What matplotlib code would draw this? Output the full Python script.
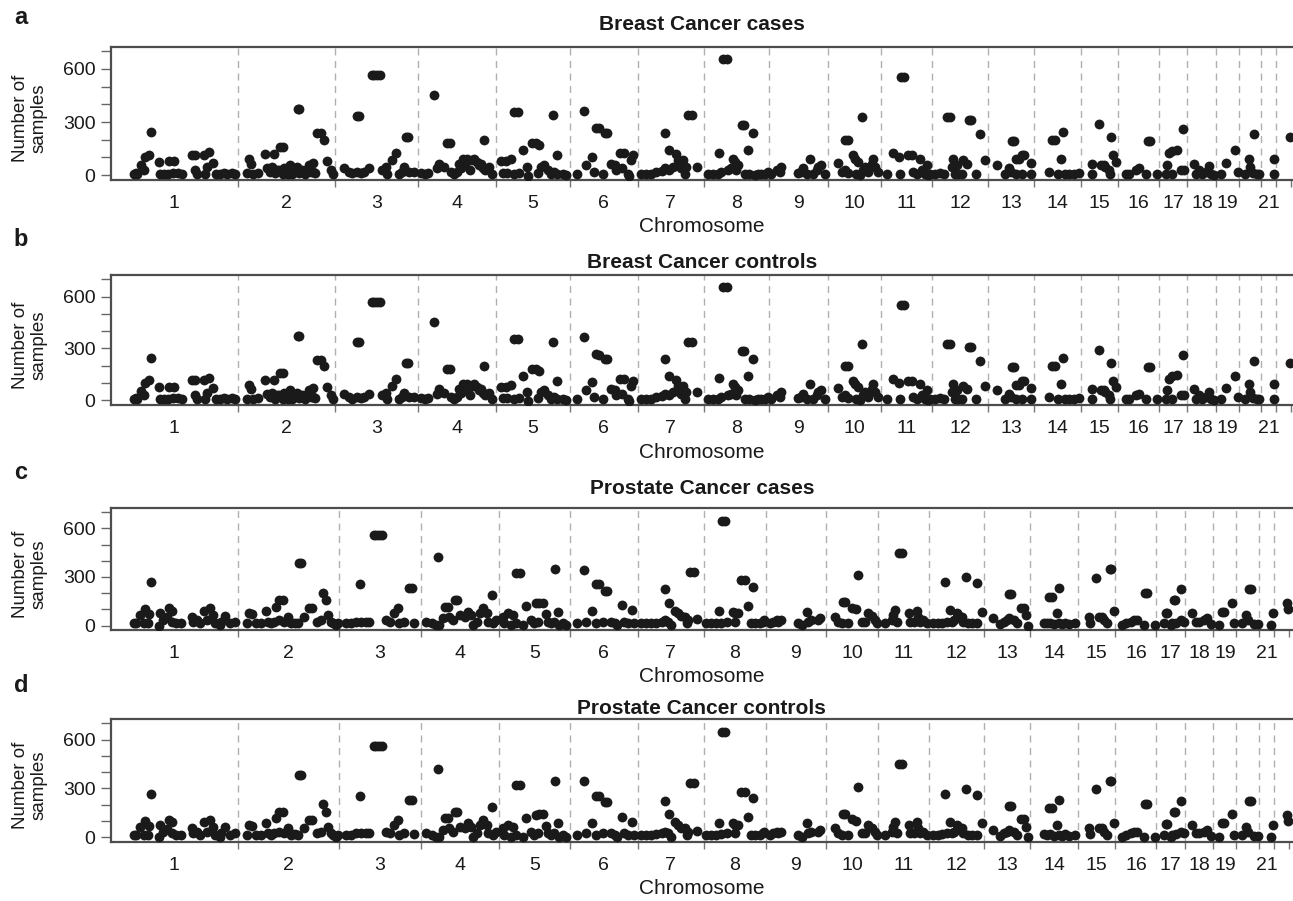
import numpy as np
import matplotlib
matplotlib.use("Agg")
import matplotlib.pyplot as plt

plt.rcParams['font.family'] = ['Liberation Sans', 'DejaVu Sans']

# ---------------- data ----------------
chrom_labels = ['1', '2', '3', '4', '5', '6', '7', '8', '9', '10', '11', '12',
                '13', '14', '15', '16', '17', '18', '19', '', '21', '']

# chromosome widths on the plot axis (as drawn in each dataset)
breast_chrom_widths = [127, 96.6, 83.4, 77.6, 73.7, 67.7, 65.6, 65.4, 58.6, 52.7, 51,
                       56.3, 45.4, 47, 37.3, 40.7, 28.3, 29, 22.7, 22, 14.6, 14.7]
prostate_chrom_widths = [127, 100.6, 81.7, 77.7, 71.3, 67.7, 65.6, 62, 60, 52.4, 51,
                         54.6, 46, 47.7, 37.3, 40.7, 28.3, 28.7, 23, 22.7, 15, 14.3]

# (relative position within chromosome, number of samples)
breast_c1 = [(0.18, 5), (0.20, 12), (0.21, 8), (0.24, 55), (0.26, 28), (0.27, 100), (0.30, 115),
             (0.32, 245), (0.38, 75), (0.39, 5), (0.42, 5), (0.45, 5), (0.46, 78), (0.49, 12),
             (0.50, 78), (0.53, 12), (0.56, 8), (0.64, 115), (0.66, 115), (0.66, 28), (0.68, 5),
             (0.73, 115), (0.74, 5), (0.77, 130), (0.76, 45), (0.80, 70), (0.83, 8), (0.86, 8),
             (0.89, 12), (0.91, 8), (0.95, 12), (0.98, 8)]
breast_c2 = [(0.11, 89), (0.13, 66), (0.09, 10), (0.16, 5), (0.21, 15), (0.28, 117), (0.37, 117),
             (0.43, 157), (0.46, 157), (0.30, 38), (0.35, 45), (0.40, 28), (0.47, 8), (0.51, 38),
             (0.54, 57), (0.56, 8), (0.57, 28), (0.61, 45), (0.62, 372), (0.635, 372), (0.66, 28),
             (0.69, 8), (0.73, 57), (0.77, 70), (0.78, 20), (0.82, 236), (0.86, 236), (0.89, 198),
             (0.92, 79), (0.96, 28), (0.98, 8), (0.33, 20), (0.38, 10), (0.42, 30), (0.48, 40),
             (0.50, 20), (0.52, 5), (0.59, 25), (0.63, 15), (0.70, 30), (0.75, 20), (0.80, 15)]
breast_c3 = [(0.11, 38), (0.17, 20), (0.21, 10), (0.27, 20), (0.31, 12), (0.35, 20), (0.41, 38),
             (0.27, 336), (0.29, 336), (0.44, 568), (0.47, 568), (0.50, 568), (0.54, 568),
             (0.57, 28), (0.61, 45), (0.63, 8), (0.69, 85), (0.73, 123), (0.77, 8), (0.81, 18),
             (0.85, 217), (0.88, 217), (0.83, 45), (0.89, 18), (0.95, 18)]
breast_c4 = [(0.03, 12), (0.09, 8), (0.13, 12), (0.20, 453), (0.24, 38), (0.27, 66), (0.33, 45),
             (0.37, 179), (0.41, 179), (0.42, 20), (0.46, 8), (0.50, 20), (0.55, 40), (0.57, 94),
             (0.60, 66), (0.63, 94), (0.66, 30), (0.69, 85), (0.72, 94), (0.75, 75), (0.78, 60),
             (0.80, 66), (0.83, 40), (0.85, 198), (0.86, 30), (0.91, 45), (0.95, 8), (0.52, 66)]
breast_c5 = [(0.06, 79), (0.13, 79), (0.20, 89), (0.09, 12), (0.15, 12), (0.24, 8), (0.31, 12),
             (0.42, 47), (0.43, -5), (0.24, 355), (0.30, 355), (0.37, 142), (0.49, 183),
             (0.54, 179), (0.58, 170), (0.56, 12), (0.61, 47), (0.65, 57), (0.70, 28), (0.74, 8),
             (0.79, 18), (0.83, 8), (0.90, 8), (0.94, 0), (0.77, 340), (0.82, 113)]
breast_c6 = [(0.11, 8), (0.20, 364), (0.23, 57), (0.33, 104), (0.36, 18), (0.39, 268), (0.43, 264),
             (0.51, 240), (0.55, 240), (0.48, 8), (0.61, 66), (0.66, 57), (0.68, 28), (0.73, 123),
             (0.79, 123), (0.76, 38), (0.85, 8), (0.87, -5), (0.90, 85), (0.93, 113)]
breast_c7 = [(0.05, 8), (0.13, 8), (0.20, 8), (0.28, 18), (0.36, 24), (0.41, 38), (0.48, 28),
             (0.53, 47), (0.42, 240), (0.47, 142), (0.58, 119), (0.61, 85), (0.63, 57), (0.66, 38),
             (0.71, 8), (0.69, 85), (0.73, 47), (0.76, 340), (0.82, 340), (0.90, 47)]
breast_c8 = [(0.07, 8), (0.14, 8), (0.22, 8), (0.27, 18), (0.23, 128), (0.30, 655), (0.35, 655),
             (0.37, 28), (0.42, 38), (0.45, 94), (0.48, 75), (0.50, 28), (0.52, 57), (0.58, 283),
             (0.62, 283), (0.68, 142), (0.75, 240), (0.63, 8), (0.70, 8), (0.78, 0), (0.83, 8),
             (0.88, 8), (0.93, 8), (0.98, 18)]
breast_c9 = [(0.04, 8), (0.13, 28), (0.18, 18), (0.21, 47), (0.49, 12), (0.55, 18), (0.58, 38),
             (0.64, 8), (0.69, 94), (0.75, 8), (0.81, 28), (0.84, 47), (0.89, 57), (0.95, 8)]
breast_c10 = [(0.20, 70), (0.26, 18), (0.32, 28), (0.39, 12), (0.33, 198), (0.39, 198), (0.48, 113),
              (0.51, 94), (0.58, 75), (0.64, 326), (0.54, 8), (0.61, 0), (0.67, 28), (0.70, 47),
              (0.76, 18), (0.83, 66), (0.86, 94), (0.89, 47), (0.95, 18)]
breast_c11 = [(0.12, 8), (0.25, 123), (0.35, 100), (0.38, 8), (0.40, 553), (0.46, 553), (0.54, 113),
              (0.61, 113), (0.64, 18), (0.71, 8), (0.77, 94), (0.80, 28), (0.87, 8), (0.90, 57),
              (0.93, 0), (0.97, 8)]
breast_c12 = [(0.06, 8), (0.15, 12), (0.21, 8), (0.27, 326), (0.33, 326), (0.36, 47), (0.38, 94),
              (0.41, 8), (0.44, 57), (0.47, 8), (0.53, 8), (0.56, 85), (0.62, 66), (0.66, 311),
              (0.69, 311), (0.79, 8), (0.86, 230), (0.95, 85)]
breast_c13 = [(0.19, 57), (0.37, 8), (0.45, 38), (0.49, 18), (0.52, 194), (0.56, 194), (0.60, 89),
              (0.67, 89), (0.74, 113), (0.79, 113), (0.61, 8), (0.74, 8), (0.93, 70), (0.93, 8)]
breast_c14 = [(0.32, 18), (0.39, 201), (0.45, 201), (0.52, 8), (0.57, 94), (0.62, 245), (0.67, 8),
              (0.74, 8), (0.85, 8), (0.96, 12)]
breast_c15 = [(0.30, 66), (0.30, 8), (0.48, 289), (0.53, 57), (0.62, 57), (0.66, 47), (0.75, 28),
              (0.79, 8), (0.82, 217), (0.86, 113), (0.93, 75)]
breast_c16 = [(0.18, 8), (0.26, 8), (0.43, 28), (0.51, 38), (0.67, 8), (0.72, 194), (0.77, 194),
              (0.96, 5)]
breast_c17 = [(0.24, 8), (0.29, 57), (0.35, 126), (0.47, 138), (0.65, 145), (0.47, 8), (0.76, 28),
              (0.88, 28), (0.85, 260)]
breast_c18 = [(0.23, 66), (0.29, 8), (0.40, 28), (0.52, 8), (0.63, 18), (0.75, 51), (0.80, 8),
              (0.92, 0)]
breast_c19 = [(0.19, 8), (0.41, 70), (0.82, 142), (0.93, 18)]
breast_c20 = [(0.27, 8), (0.45, 94), (0.48, 47), (0.68, 230), (0.61, 12), (0.83, 8), (0.91, 8)]
breast_c21 = [(0.84, 94), (0.84, 5)]
breast_c22 = [(0.93, 217)]

prostate_c1 = [(0.18, 14), (0.20, 14), (0.23, 66), (0.26, 14), (0.27, 100), (0.29, 14), (0.30, 72),
               (0.32, 267), (0.38, 0), (0.39, 76), (0.41, 35), (0.44, 51), (0.46, 107), (0.48, 92),
               (0.48, 25), (0.51, 14), (0.55, 14), (0.64, 55), (0.65, 25), (0.68, 35), (0.70, 14),
               (0.73, 92), (0.76, 35), (0.78, 107), (0.80, 66), (0.82, 14), (0.86, 4), (0.87, 25),
               (0.90, 62), (0.94, 14), (0.98, 25)]
prostate_c2 = [(0.09, 14), (0.11, 76), (0.14, 72), (0.18, 14), (0.23, 14), (0.28, 90), (0.30, 25),
               (0.33, 14), (0.36, 25), (0.38, 117), (0.41, 158), (0.45, 158), (0.41, 35),
               (0.46, 25), (0.50, 55), (0.52, 25), (0.53, 14), (0.57, 18), (0.60, 14), (0.61, 384),
               (0.63, 384), (0.65, 55), (0.70, 107), (0.73, 107), (0.78, 25), (0.82, 35),
               (0.84, 203), (0.87, 158), (0.89, 66), (0.92, 25), (0.94, 14), (0.97, 4), (0.99, 14)]
prostate_c3 = [(0.09, 14), (0.15, 14), (0.21, 25), (0.27, 25), (0.33, 25), (0.37, 25), (0.26, 255),
               (0.43, 561), (0.46, 561), (0.49, 561), (0.53, 561), (0.58, 35), (0.62, 25),
               (0.68, 76), (0.72, 107), (0.74, 14), (0.80, 25), (0.86, 230), (0.89, 230), (0.92, 18)]
prostate_c4 = [(0.07, 25), (0.14, 14), (0.20, 4), (0.22, 421), (0.24, 4), (0.29, 45), (0.31, 117),
               (0.35, 117), (0.37, 55), (0.42, 35), (0.44, 158), (0.47, 158), (0.50, 66), (0.57, 55),
               (0.61, 86), (0.65, 66), (0.67, 4), (0.72, 25), (0.76, 76), (0.80, 107), (0.85, 76),
               (0.87, 25), (0.91, 189), (0.93, 14), (0.97, 35)]
prostate_c5 = [(0.06, 55), (0.08, 14), (0.13, 76), (0.17, 4), (0.20, 66), (0.24, 14), (0.24, 323),
               (0.30, 323), (0.34, 4), (0.38, 121), (0.45, 35), (0.50, 14), (0.52, 138), (0.57, 142),
               (0.62, 142), (0.55, 25), (0.66, 72), (0.69, 25), (0.73, 14), (0.79, 347), (0.78, 25),
               (0.83, 86), (0.85, 4), (0.90, 14), (0.94, 4)]
prostate_c6 = [(0.11, 14), (0.20, 343), (0.24, 25), (0.33, 90), (0.38, 14), (0.38, 255), (0.43, 255),
               (0.48, 25), (0.51, 216), (0.55, 216), (0.61, 25), (0.66, 14), (0.70, 4), (0.76, 127),
               (0.80, 25), (0.85, 14), (0.92, 97), (0.95, 14)]
prostate_c7 = [(0.05, 14), (0.13, 14), (0.20, 14), (0.28, 18), (0.36, 25), (0.41, 35), (0.46, 25),
               (0.51, 4), (0.42, 224), (0.47, 142), (0.56, 92), (0.61, 76), (0.66, 60), (0.71, 55),
               (0.74, 14), (0.76, 35), (0.79, 333), (0.85, 333), (0.90, 40)]
prostate_c8 = [(0.04, 14), (0.12, 14), (0.20, 14), (0.28, 18), (0.37, 25), (0.24, 90), (0.29, 647),
               (0.35, 647), (0.47, 86), (0.51, 76), (0.56, 76), (0.50, 25), (0.61, 281), (0.66, 281),
               (0.72, 123), (0.80, 240), (0.76, 14), (0.82, 14), (0.90, 14), (0.95, 25), (0.98, 35)]
prostate_c9 = [(0.07, 14), (0.12, 25), (0.18, 35), (0.21, 25), (0.26, 35), (0.54, 14), (0.60, 4),
               (0.68, 86), (0.71, 25), (0.76, 35), (0.87, 35), (0.90, 45)]
prostate_c10 = [(0.17, 55), (0.24, 25), (0.30, 14), (0.33, 144), (0.36, 144), (0.43, 14), (0.50, 111),
                (0.57, 103), (0.61, 312), (0.68, 25), (0.75, 25), (0.81, 76), (0.87, 60), (0.94, 35),
                (0.97, 14)]
prostate_c11 = [(0.13, 14), (0.26, 35), (0.29, 66), (0.33, 97), (0.36, 25), (0.41, 450), (0.47, 450),
                (0.59, 76), (0.62, 25), (0.69, 25), (0.75, 92), (0.78, 55), (0.82, 25), (0.88, 35),
                (0.95, 14)]
prostate_c12 = [(0.07, 14), (0.16, 14), (0.23, 18), (0.29, 267), (0.32, 25), (0.38, 97), (0.41, 25),
                (0.44, 35), (0.50, 76), (0.53, 66), (0.59, 55), (0.62, 25), (0.67, 298), (0.71, 14),
                (0.78, 14), (0.87, 14), (0.87, 261), (0.96, 86)]
prostate_c13 = [(0.20, 45), (0.35, 10), (0.42, 25), (0.49, 35), (0.54, 45), (0.64, 35), (0.71, 14),
                (0.53, 195), (0.58, 195), (0.80, 111), (0.86, 111), (0.91, 66), (0.96, 0)]
prostate_c14 = [(0.28, 18), (0.35, 14), (0.42, 18), (0.49, 10), (0.59, 14), (0.66, 10), (0.73, 18),
                (0.80, 10), (0.94, 14), (0.40, 179), (0.45, 179), (0.61, 230), (0.56, 76)]
prostate_c15 = [(0.29, 55), (0.33, 18), (0.55, 55), (0.63, 55), (0.69, 35), (0.78, 14), (0.49, 296),
                (0.84, 347), (0.89, 347), (0.96, 90)]
prostate_c16 = [(0.16, 4), (0.25, 14), (0.37, 25), (0.45, 35), (0.53, 35), (0.70, 4), (0.72, 203),
                (0.78, 203), (0.97, 4)]
prostate_c17 = [(0.27, 14), (0.33, 80), (0.39, 80), (0.51, 4), (0.56, 14), (0.68, 18), (0.86, 35),
                (0.98, 25), (0.61, 158), (0.66, 158), (0.88, 224)]
prostate_c18 = [(0.27, 76), (0.38, 25), (0.50, 25), (0.67, 35), (0.79, 45), (0.91, 10)]
prostate_c19 = [(0.25, 4), (0.39, 86), (0.46, 86), (0.80, 142), (0.90, 14)]
prostate_c20 = [(0.26, 14), (0.41, 66), (0.49, 35), (0.56, 224), (0.66, 224), (0.78, 10), (0.93, 10)]
prostate_c21 = [(0.78, 4), (0.89, 76)]
prostate_c22 = [(0.86, 138), (0.95, 100)]

breast_points = [breast_c1, breast_c2, breast_c3, breast_c4, breast_c5, breast_c6, breast_c7,
                 breast_c8, breast_c9, breast_c10, breast_c11, breast_c12, breast_c13, breast_c14,
                 breast_c15, breast_c16, breast_c17, breast_c18, breast_c19, breast_c20,
                 breast_c21, breast_c22]
prostate_points = [prostate_c1, prostate_c2, prostate_c3, prostate_c4, prostate_c5, prostate_c6,
                   prostate_c7, prostate_c8, prostate_c9, prostate_c10, prostate_c11, prostate_c12,
                   prostate_c13, prostate_c14, prostate_c15, prostate_c16, prostate_c17,
                   prostate_c18, prostate_c19, prostate_c20, prostate_c21, prostate_c22]

panel_letters = ['a', 'b', 'c', 'd']
panel_titles = ['Breast Cancer cases', 'Breast Cancer controls',
                'Prostate Cancer cases', 'Prostate Cancer controls']
panel_data = [(breast_points, breast_chrom_widths), (breast_points, breast_chrom_widths),
              (prostate_points, prostate_chrom_widths), (prostate_points, prostate_chrom_widths)]

# ---------------- layout (pixels) ----------------
W, H = 1293, 901
ax_left_px = 110.7
panel_px = [(46.7, 180.0), (275.0, 405.0), (508.0, 630.0), (719.3, 841.7)]  # top, bottom
title_y_px = [25, 262, 488, 708]
letter_y_px = [17, 239, 473, 686]

fig = plt.figure(figsize=(W / 100, H / 100), dpi=100)

spine_col = '#4d4d4d'
for i in range(4):
    top, bot = panel_px[i]
    ax = fig.add_axes([ax_left_px / W, 1 - bot / H, (W - ax_left_px) / W + 0.002, (bot - top) / H])
    pts, widths = panel_data[i]
    widths = np.array(widths, dtype=float)
    starts = np.concatenate([[0.0], np.cumsum(widths)[:-1]])
    ends = starts + widths
    xs, ys = [], []
    for c, plist in enumerate(pts):
        for frac, val in plist:
            xs.append(starts[c] + frac * widths[c])
            ys.append(val)
    for b in ends[:-1]:
        ax.axvline(b, color='#b0b0b0', lw=1.0, ls=(0, (5, 4)), zorder=1)
    ax.scatter(xs, ys, s=50, color='#1a1a1a', linewidths=0, zorder=3)

    ax.set_xlim(0, W - ax_left_px)
    ax.set_ylim(-27, 725)
    mids = (starts + ends) / 2
    ax.set_xticks(mids)
    ax.set_xticklabels(chrom_labels, fontsize=14, color='#1a1a1a')
    ax.set_xticks(ends, minor=True)
    ax.tick_params(axis='x', which='major', length=0, pad=11)
    ax.tick_params(axis='x', which='minor', length=5, width=1, color='#777777', direction='out')
    ax.set_yticks([0, 300, 600])
    ax.set_yticklabels(['0', '300', '600'], fontsize=14, color='#1a1a1a')
    ax.set_yticks([100, 200, 400, 500, 700], minor=True)
    ax.tick_params(axis='y', which='both', length=7, width=1, color='#666666', direction='out', pad=4)
    for s in ['top', 'left', 'bottom']:
        ax.spines[s].set_color(spine_col)
        ax.spines[s].set_linewidth(1.6)
    ax.spines['right'].set_visible(False)

    xc = (ax_left_px + W) / 2 / W
    fig.text(xc, 1 - title_y_px[i] / H, panel_titles[i], ha='center', va='center',
             fontsize=15, fontweight='bold', color='#1a1a1a')
    fig.text(21 / W, 1 - letter_y_px[i] / H, panel_letters[i], ha='center', va='center',
             fontsize=17, fontweight='bold', color='#1a1a1a')
    fig.text(30 / W, 1 - ((top + bot) / 2 + 5) / H, 'Number of\nsamples', ha='center', va='center',
             rotation=90, fontsize=13.5, linespacing=1.15, color='#1a1a1a')
    fig.text(xc, 1 - (bot + 47) / H, 'Chromosome', ha='center', va='center',
             fontsize=15, color='#1a1a1a')

fig.savefig('out.png', dpi=100)
